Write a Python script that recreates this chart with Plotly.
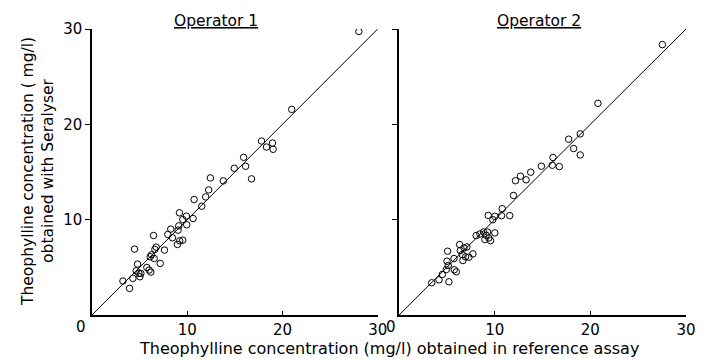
import plotly.graph_objects as go

# Operator 1: reference assay (x) vs Seralyser (y)
op1_ref = [3.25, 3.94, 4.29, 4.47, 4.64, 4.78, 4.92, 5.03, 5.13, 5.76, 6.00, 6.18, 6.11, 6.25,
           6.46, 6.53, 6.60, 6.74, 7.16, 7.61, 7.96, 8.27, 8.45, 8.97, 9.04, 9.11, 9.18, 9.21,
           9.53, 9.53, 9.91, 9.95, 10.61, 10.72, 11.52, 11.94, 12.25, 12.43, 13.79, 14.94,
           15.92, 16.13, 16.75, 17.80, 18.32, 18.95, 19.02, 20.97, 28.02]
op1_ser = [3.56, 2.79, 3.84, 6.91, 4.64, 5.34, 4.36, 4.01, 4.36, 4.99, 4.71, 4.50, 6.11, 6.32,
           8.34, 5.93, 6.88, 7.12, 5.41, 6.81, 8.45, 9.01, 8.10, 7.40, 8.90, 9.35, 10.72, 7.78,
           7.85, 10.02, 10.37, 9.46, 10.12, 12.11, 11.41, 12.39, 13.12, 14.38, 14.07, 15.39,
           16.54, 15.60, 14.28, 18.25, 17.62, 18.04, 17.38, 21.57, 29.74]

# Operator 2
op2_ref = [3.41, 4.17, 4.52, 4.94, 5.07, 5.01, 5.14, 5.21, 5.74, 5.77, 5.98, 6.33, 6.40, 6.60,
           6.67, 6.78, 6.95, 7.09, 7.30, 7.72, 8.06, 8.45, 8.83, 8.97, 9.11, 9.25, 9.32, 9.38,
           9.56, 9.80, 10.01, 10.01, 10.71, 10.78, 11.57, 11.96, 12.17, 12.69, 13.28, 13.76,
           14.88, 16.02, 16.09, 16.75, 18.94, 17.73, 18.25, 18.94, 20.79, 27.53]
op2_ser = [3.38, 3.69, 4.25, 4.77, 6.69, 5.64, 5.19, 3.48, 5.92, 4.74, 4.53, 7.39, 6.76, 6.34,
           5.71, 7.04, 6.10, 7.14, 6.06, 6.41, 8.33, 8.50, 8.71, 7.91, 8.36, 8.71, 10.45, 8.08,
           7.80, 10.00, 10.35, 8.61, 10.42, 11.15, 10.42, 12.54, 14.08, 14.56, 14.18, 14.98,
           15.61, 15.71, 16.52, 15.57, 16.79, 18.44, 17.46, 19.00, 22.20, 28.36]

identity = [0, 30]
tick_vals = [10, 20, 30]
tick_text = ["10", "20", "30"]

FONT = "DejaVu Sans"
fig = go.Figure()

marker = dict(symbol="circle-open", size=6.5, color="black", line=dict(width=1, color="black"))
for xa, ya, xs, ys in [("x", "y", op1_ref, op1_ser), ("x2", "y2", op2_ref, op2_ser)]:
    fig.add_trace(go.Scatter(x=identity, y=identity, mode="lines",
                             line=dict(color="black", width=1), xaxis=xa, yaxis=ya,
                             showlegend=False, hoverinfo="skip"))
    fig.add_trace(go.Scatter(x=xs, y=ys, mode="markers", marker=marker,
                             xaxis=xa, yaxis=ya, showlegend=False))

xcommon = dict(range=[0, 30], tickvals=tick_vals, ticktext=tick_text, ticks="inside",
               ticklen=4, tickcolor="black", showline=True, linecolor="black", linewidth=1.5,
               showgrid=False, zeroline=False, tickfont=dict(size=15, color="black", family=FONT))
ycommon = dict(range=[0, 30], tickvals=tick_vals, ticks="outside", ticklen=5,
               tickcolor="black", showline=True, linecolor="black", linewidth=1.5,
               showgrid=False, zeroline=False, tickfont=dict(size=15, color="black", family=FONT))

LD = [0, 0.481]
RD = [0.517, 1.0]

fig.update_layout(
    width=700, height=351,
    margin=dict(l=84, r=20, t=21, b=44),
    paper_bgcolor="white", plot_bgcolor="white",
    font=dict(family=FONT, color="black"),
    xaxis=dict(domain=LD, anchor="y", **xcommon),
    yaxis=dict(domain=[0, 1], anchor="x", ticktext=tick_text, showticklabels=True, **ycommon),
    xaxis2=dict(domain=RD, anchor="y2", **xcommon),
    yaxis2=dict(domain=[0, 1], anchor="x2", showticklabels=False, **ycommon),
    annotations=[
        dict(text="<u>Operator 1</u>", x=0.208, xref="paper", xanchor="center",
             y=1.0, yref="paper", yanchor="middle", yshift=8, showarrow=False,
             font=dict(size=15.5, family=FONT)),
        dict(text="<u>Operator 2</u>", x=0.752, xref="paper", xanchor="center",
             y=1.0, yref="paper", yanchor="middle", yshift=8, showarrow=False,
             font=dict(size=15.5, family=FONT)),
        dict(text="0", x=0, xref="x", y=0, yref="y", xanchor="center", yanchor="middle",
             xshift=-11, yshift=-12, showarrow=False, font=dict(size=15, family=FONT)),
        dict(text="0", x=0, xref="x2", y=0, yref="y2", xanchor="center", yanchor="middle",
             xshift=-8, yshift=-12, showarrow=False, font=dict(size=15, family=FONT)),
        dict(text="Theophylline concentration (mg/l) obtained in reference assay",
             x=0.5, xref="paper", xanchor="center", y=0, yref="paper", yanchor="middle",
             yshift=-33, showarrow=False, font=dict(size=16, family=FONT)),
        dict(text="Theophylline concentration ( mg/l)<br>obtained with Seralyser",
             x=0, xref="paper", xanchor="center", y=0.5, yref="paper", yanchor="middle",
             xshift=-54, textangle=-90, showarrow=False, font=dict(size=15.5, family=FONT)),
    ],
)

fig.write_html("out.html")
